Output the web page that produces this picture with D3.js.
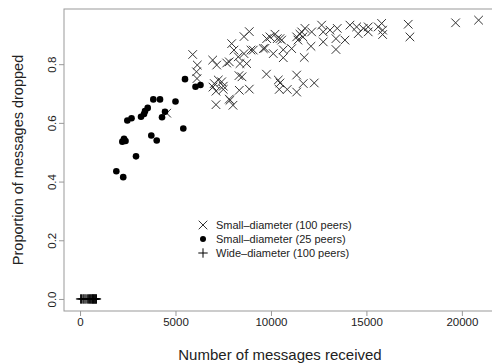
<!DOCTYPE html>
<html>
<head>
<meta charset="utf-8">
<script src="https://cdn.jsdelivr.net/npm/d3@7"></script>
<style>
  body { margin: 0; background: #fff; }
  svg text { font-family: "Liberation Sans", Arial, sans-serif; fill: #222; }
</style>
</head>
<body>
<div id="chart"></div>
<script>
// Small-diameter (100 peers): [messages received, proportion dropped]
const smallDiam100 = [
  [5901, 0.833], [6142, 0.797], [6100, 0.774], [6126, 0.751], [4540, 0.633],
  [6948, 0.814], [7158, 0.797], [7032, 0.734], [7121, 0.708], [7121, 0.662],
  [6964, 0.722], [7419, 0.740], [7503, 0.725], [7241, 0.746], [7854, 0.677],
  [8011, 0.660], [7681, 0.804], [7817, 0.808], [7943, 0.870], [8063, 0.848],
  [8289, 0.825], [8378, 0.802], [8325, 0.761], [8341, 0.711], [8865, 0.715],
  [8587, 0.894], [8865, 0.911], [8728, 0.802], [8587, 0.836], [8954, 0.848],
  [9687, 0.854], [9765, 0.766], [7503, 0.714], [8482, 0.757], [7817, 0.681],
  [9948, 0.893], [10210, 0.902], [10331, 0.887], [10561, 0.882], [10472, 0.887],
  [9776, 0.887], [9598, 0.853], [9074, 0.848], [10121, 0.836], [10645, 0.822],
  [10645, 0.849], [11085, 0.853], [11346, 0.893], [11608, 0.910], [11781, 0.922],
  [11676, 0.893], [12132, 0.910], [12095, 0.861], [11744, 0.823], [10383, 0.746],
  [10472, 0.736], [10435, 0.714], [10854, 0.714], [11346, 0.763], [11346, 0.705],
  [11692, 0.734], [12268, 0.736], [11519, 0.902], [11414, 0.882],
  [12655, 0.933], [12739, 0.910], [12739, 0.876], [13090, 0.916], [13404, 0.887],
  [13404, 0.850], [13472, 0.922], [13875, 0.882], [14137, 0.933], [14488, 0.927],
  [14572, 0.904], [14834, 0.922], [15095, 0.927], [15095, 0.910], [15619, 0.927],
  [15797, 0.939], [15849, 0.916], [15849, 0.901], [17190, 0.936], [17279, 0.893],
  [19672, 0.941], [20876, 0.950]
];

// Small-diameter (25 peers)
const smallDiam25 = [
  [5498, 0.749], [6048, 0.723], [6309, 0.729], [3838, 0.680], [4189, 0.680],
  [5000, 0.673], [3545, 0.651], [3403, 0.640], [3351, 0.630], [3194, 0.621],
  [4451, 0.638], [4294, 0.619], [2697, 0.616], [2477, 0.608], [5409, 0.581],
  [3733, 0.557], [4016, 0.540], [2304, 0.546], [2382, 0.538], [2215, 0.536],
  [2932, 0.486], [1901, 0.435], [2262, 0.415]
];

// Wide-diameter (100 peers)
const wideDiamX = [30, 80, 150, 200, 260, 320, 400, 450, 500, 540, 580, 620, 650, 680, 710, 740, 770, 800, 830, 860];
const wideDiamY = [0, 0, 0, 0, 0, 0, 0, 0, 0, 0, 0, 0, 0, 0, 0, 0, 0, 0, 0, 0];

const xTicks = [0, 5000, 10000, 15000, 20000];
const yTicks = [0.0, 0.2, 0.4, 0.6, 0.8];
const legendLabels = ['Small\u2013diameter (100 peers)', 'Small\u2013diameter (25 peers)', 'Wide\u2013diameter (100 peers)'];

const W = 492, H = 364;
const plot = { left: 64, right: 497, top: 9, bottom: 311 };

const svg = d3.select('#chart').append('svg')
  .attr('width', W).attr('height', H);

const x = d3.scaleLinear().domain([-840, 21840]).range([plot.left, plot.right]);
const y = d3.scaleLinear().domain([-0.041, 0.988]).range([plot.bottom, plot.top]);

// box
svg.append('rect')
  .attr('x', plot.left).attr('y', plot.top)
  .attr('width', plot.right - plot.left).attr('height', plot.bottom - plot.top)
  .attr('fill', 'none').attr('stroke', '#999').attr('stroke-width', 1);

// x axis
const xAxis = svg.append('g')
  .attr('transform', `translate(0,${plot.bottom})`)
  .call(d3.axisBottom(x).tickValues(xTicks).tickSize(5).tickFormat(d3.format('d')));
xAxis.select('.domain').remove();
xAxis.selectAll('line').attr('stroke', '#999');
xAxis.selectAll('text').attr('font-size', 11.5).attr('dy', '0.9em').attr('y', 5);

// y axis (labels rotated like R)
const yAxis = svg.append('g')
  .attr('transform', `translate(${plot.left},0)`)
  .call(d3.axisLeft(y).tickValues(yTicks).tickSize(5).tickFormat(d3.format('.1f')));
yAxis.select('.domain').remove();
yAxis.selectAll('line').attr('stroke', '#999');
yAxis.selectAll('text')
  .attr('font-size', 11.5)
  .attr('x', 0).attr('dy', 0)
  .attr('text-anchor', 'middle')
  .attr('transform', 'translate(-8,0) rotate(-90)');

// titles
svg.append('text')
  .attr('x', 280).attr('y', 360)
  .attr('text-anchor', 'middle').attr('font-size', 15)
  .text('Number of messages received');
svg.append('text')
  .attr('transform', `translate(23,${(plot.top + plot.bottom) / 2}) rotate(-90)`)
  .attr('text-anchor', 'middle').attr('font-size', 14.5)
  .text('Proportion of messages dropped');

const cross = (g, s) => g.append('path')
  .attr('d', `M${-s},${-s}L${s},${s}M${-s},${s}L${s},${-s}`)
  .attr('stroke', '#333').attr('stroke-width', 1).attr('fill', 'none');
const plus = (g, s) => g.append('path')
  .attr('d', `M${-s},0L${s},0M0,${-s}L0,${s}`)
  .attr('stroke', '#000').attr('stroke-width', 1).attr('fill', 'none');

// points
svg.append('g').selectAll('g')
  .data(smallDiam100)
  .join('g')
  .attr('transform', d => `translate(${x(d[0])},${y(d[1])})`)
  .each(function () { cross(d3.select(this), 4.3); });

svg.append('g').selectAll('circle')
  .data(smallDiam25)
  .join('circle')
  .attr('cx', d => x(d[0])).attr('cy', d => y(d[1]))
  .attr('r', 3.3).attr('fill', '#000');

svg.append('g').selectAll('g')
  .data(wideDiamX.map((v, i) => [v, wideDiamY[i]]))
  .join('g')
  .attr('transform', d => `translate(${x(d[0])},${y(d[1])})`)
  .each(function () { plus(d3.select(this), 4.7); });

// legend
const lg = svg.append('g').attr('transform', 'translate(203,225)');
legendLabels.forEach((lab, i) => {
  const row = lg.append('g').attr('transform', `translate(0,${i * 14})`);
  if (i === 0) cross(row, 4.3);
  else if (i === 1) row.append('circle').attr('r', 3).attr('fill', '#000');
  else plus(row, 4.7);
  row.append('text').attr('x', 13).attr('y', 4)
    .attr('font-size', 11).text(lab);
});
</script>
</body>
</html>
